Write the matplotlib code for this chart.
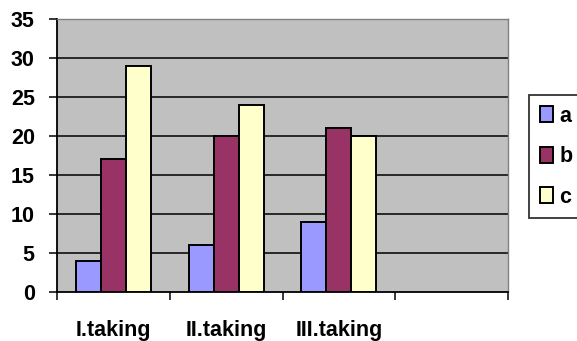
import matplotlib
matplotlib.use("Agg")
import matplotlib.pyplot as plt
import numpy as np

categories = ["I.taking", "II.taking", "III.taking", ""]
series_names = ["a", "b", "c"]
a_values = [4, 6, 9]
b_values = [17, 20, 21]
c_values = [29, 24, 20]
y_ticks = [0, 5, 10, 15, 20, 25, 30, 35]

colors = ["#9999FF", "#993366", "#FFFFCC"]

plt.rcParams["font.family"] = ["Liberation Sans", "DejaVu Sans"]
plt.rcParams["font.weight"] = "bold"
FS = 15.5

fig = plt.figure(figsize=(5.77, 3.41), dpi=100)
ax = fig.add_axes([57 / 577, 1 - 292 / 341, (508 - 57) / 577, (292 - 19) / 341])
ax.set_facecolor("#C0C0C0")

n_series = 3
bar_w = 1 / (n_series + 1.5)
centers = np.arange(len(categories)) + 0.5
all_values = [a_values, b_values, c_values]
for i, (name, vals, col) in enumerate(zip(series_names, all_values, colors)):
    xs = centers[:len(vals)] + (i - 1) * bar_w
    ax.bar(xs, vals, width=bar_w, color=col, edgecolor="black",
           linewidth=1.4, label=name, zorder=3)

ax.set_xlim(0, len(categories))
ax.set_ylim(0, 35)

for y in y_ticks[1:-1]:
    ax.axhline(y, color="black", linewidth=1.1, zorder=1)

ax.set_yticks(y_ticks)
ax.set_yticklabels([str(v) for v in y_ticks], fontsize=FS, fontweight="bold")
ax.tick_params(axis="y", direction="out", length=6, width=1.1, pad=10)

ax.set_xticks(centers)
ax.set_xticklabels(categories, fontsize=FS, fontweight="bold")
ax.tick_params(axis="x", which="major", length=0, pad=20)
ax.set_xticks(np.arange(len(categories) + 1), minor=True)
ax.tick_params(axis="x", which="minor", direction="out", length=6, width=1.1)

for side in ("left", "bottom"):
    ax.spines[side].set_color("black")
    ax.spines[side].set_linewidth(1.3)
for side in ("top", "right"):
    ax.spines[side].set_color("#808080")
    ax.spines[side].set_linewidth(1.0)

leg = fig.legend(loc="upper left", bbox_to_anchor=(529 / 577, 1 - 95 / 341),
                 frameon=True, fancybox=False, edgecolor="black",
                 prop={"size": FS, "weight": "bold"},
                 handlelength=0.6, handleheight=0.75, handletextpad=0.3,
                 labelspacing=0.9, borderpad=0.5, borderaxespad=0)
leg.get_frame().set_linewidth(1.3)

fig.savefig("out.png", dpi=100)
